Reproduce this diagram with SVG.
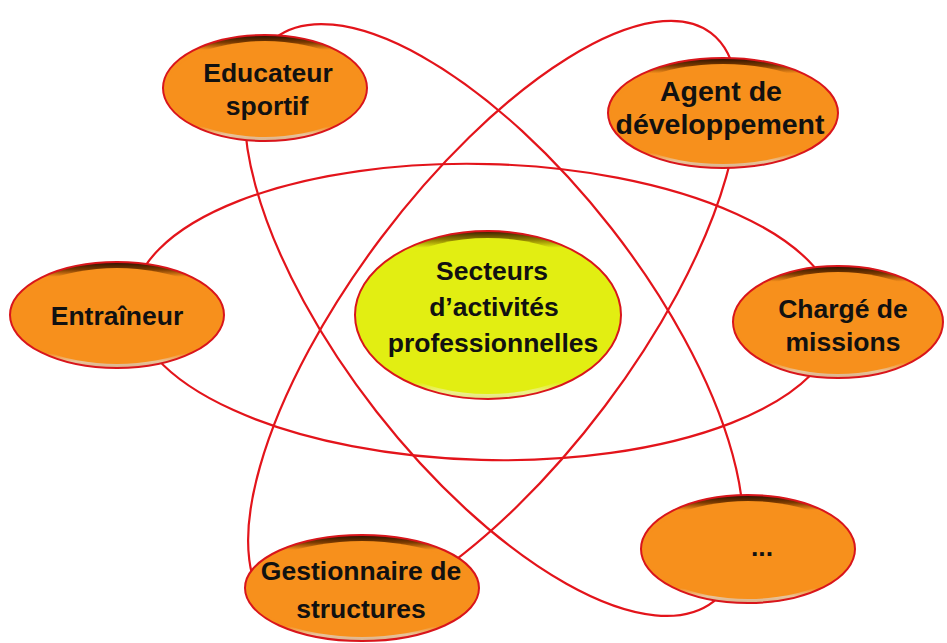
<svg xmlns="http://www.w3.org/2000/svg" width="947" height="643" viewBox="0 0 947 643">
<defs>
<linearGradient id="rimO" x1="0" y1="0" x2="0" y2="1">
<stop offset="0" stop-color="#2a1000"/>
<stop offset="0.07" stop-color="#7a3a00"/>
<stop offset="0.14" stop-color="#F7901C"/>
<stop offset="0.86" stop-color="#F7901C"/>
<stop offset="0.94" stop-color="#e8c49c"/>
<stop offset="1" stop-color="#d8b088"/>
</linearGradient>
<linearGradient id="rimY" x1="0" y1="0" x2="0" y2="1">
<stop offset="0" stop-color="#3a1a00"/>
<stop offset="0.05" stop-color="#8a7a00"/>
<stop offset="0.1" stop-color="#E2EE12"/>
<stop offset="0.9" stop-color="#E2EE12"/>
<stop offset="0.96" stop-color="#eef08c"/>
<stop offset="1" stop-color="#e0e080"/>
</linearGradient>
</defs>
<style>
.orbit{fill:none;stroke:#E3141B;stroke-width:2.2}
.rim{fill:url(#rimO);stroke:#D9151B;stroke-width:2}
.face{fill:#F7901C}
.rimc{fill:url(#rimY);stroke:#D9151B;stroke-width:2}
.facec{fill:#E2EE12}
.t{font-family:"Liberation Sans",Arial,sans-serif;font-weight:bold;font-size:26.5px;fill:#111;text-anchor:middle}
</style>
<rect width="947" height="643" fill="#ffffff"/>
<g id="connectors">
<ellipse class="orbit" cx="485" cy="312" rx="352" ry="148" transform="rotate(1.5 485 312)"/>
<ellipse class="orbit" cx="494" cy="320" rx="357" ry="149" transform="rotate(52 494 320)"/>
<ellipse class="orbit" cx="493" cy="322" rx="362" ry="140" transform="rotate(-53 493 322)"/>
</g>
<g id="center">
<ellipse class="rimc" cx="488" cy="315" rx="133" ry="84"/>
<ellipse class="facec" cx="488" cy="316" rx="130" ry="78"/>
<text class="t" x="492" y="280">Secteurs</text>
<text class="t" x="494" y="316">d’activités</text>
<text class="t" x="493" y="352">professionnelles</text>
</g>
<g id="educateur">
<ellipse class="rim" cx="265" cy="88" rx="102" ry="53"/>
<ellipse class="face" cx="265" cy="89" rx="99" ry="48"/>
<text class="t" x="268" y="82">Educateur</text>
<text class="t" x="267" y="115">sportif</text>
</g>
<g id="agent">
<ellipse class="rim" cx="723" cy="113" rx="115" ry="55"/>
<ellipse class="face" cx="723" cy="114" rx="112" ry="50"/>
<text class="t" x="721" y="101" style="font-size:28.5px">Agent de</text>
<text class="t" x="720" y="134" style="font-size:28.5px">développement</text>
</g>
<g id="entraineur">
<ellipse class="rim" cx="117" cy="315" rx="107" ry="53"/>
<ellipse class="face" cx="117" cy="316" rx="104" ry="48"/>
<text class="t" x="117" y="325">Entraîneur</text>
</g>
<g id="charge">
<ellipse class="rim" cx="838" cy="322" rx="105" ry="56"/>
<ellipse class="face" cx="838" cy="323" rx="102" ry="51"/>
<text class="t" x="843" y="318">Chargé de</text>
<text class="t" x="843" y="351">missions</text>
</g>
<g id="gestionnaire">
<ellipse class="rim" cx="362" cy="588" rx="117" ry="53"/>
<ellipse class="face" cx="362" cy="589" rx="114" ry="48"/>
<text class="t" x="361" y="580">Gestionnaire de</text>
<text class="t" x="361" y="618">structures</text>
</g>
<g id="autres">
<ellipse class="rim" cx="748" cy="549" rx="107" ry="54"/>
<ellipse class="face" cx="748" cy="550" rx="104" ry="49"/>
<text class="t" x="762" y="556">...</text>
</g>
</svg>
